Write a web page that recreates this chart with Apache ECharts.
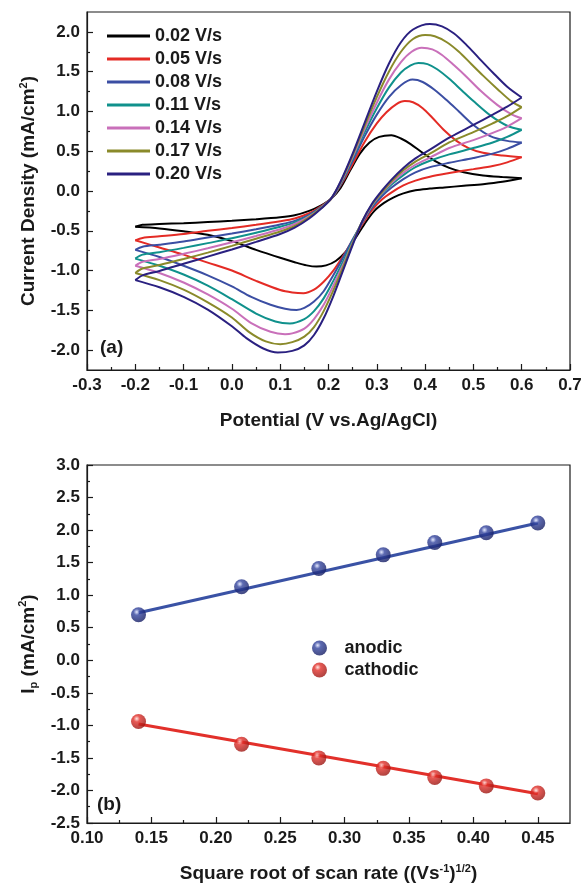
<!DOCTYPE html>
<html>
<head>
<meta charset="utf-8">
<title>CV at different scan rates</title>
<script src="https://cdn.jsdelivr.net/npm/echarts@6/dist/echarts.min.js"></script>
<style>
  html, body { margin: 0; padding: 0; background: #fff; }
  #chart { width: 585px; height: 885px; }
</style>
</head>
<body>
<div id="chart"></div>
<script>
// ---- panel (a): cyclic voltammograms, [potential V, current density mA/cm2] ----
const scanRates = ['0.02 V/s', '0.05 V/s', '0.08 V/s', '0.11 V/s', '0.14 V/s', '0.17 V/s', '0.20 V/s'];
const cvColors = ['#000000', '#e42b25', '#3b4ea3', '#10918c', '#c970ba', '#8a8a2a', '#2a2080'];

// forward (anodic) sweeps, -0.2 -> 0.6 V
const fwd002 = [[-0.2,-0.45],[-0.185,-0.425],[-0.15,-0.415],[-0.1,-0.405],[-0.05,-0.39],[0.0,-0.375],[0.05,-0.355],[0.1,-0.33],[0.13,-0.305],[0.16,-0.25],[0.185,-0.18],[0.205,-0.10],[0.225,0.04],[0.245,0.26],[0.265,0.47],[0.285,0.61],[0.305,0.68],[0.33,0.70],[0.35,0.66],[0.37,0.59],[0.395,0.48],[0.42,0.38],[0.45,0.29],[0.48,0.235],[0.52,0.195],[0.56,0.175],[0.6,0.16]];
const fwd005 = [[-0.2,-0.62],[-0.185,-0.59],[-0.15,-0.57],[-0.1,-0.54],[-0.05,-0.50],[0.0,-0.465],[0.05,-0.425],[0.1,-0.38],[0.13,-0.345],[0.16,-0.28],[0.185,-0.19],[0.205,-0.10],[0.225,0.07],[0.25,0.34],[0.275,0.62],[0.30,0.85],[0.32,0.99],[0.34,1.09],[0.358,1.13],[0.375,1.115],[0.395,1.04],[0.415,0.92],[0.44,0.76],[0.465,0.63],[0.49,0.54],[0.52,0.48],[0.56,0.445],[0.6,0.425]];
const fwd008 = [[-0.2,-0.74],[-0.185,-0.70],[-0.15,-0.675],[-0.1,-0.635],[-0.05,-0.585],[0.0,-0.535],[0.05,-0.48],[0.1,-0.42],[0.13,-0.375],[0.16,-0.30],[0.185,-0.20],[0.205,-0.10],[0.225,0.08],[0.25,0.38],[0.275,0.69],[0.30,0.96],[0.325,1.18],[0.35,1.33],[0.374,1.40],[0.395,1.37],[0.42,1.27],[0.445,1.14],[0.47,1.0],[0.5,0.83],[0.535,0.69],[0.57,0.63],[0.6,0.61]];
const fwd011 = [[-0.2,-0.85],[-0.185,-0.80],[-0.15,-0.77],[-0.1,-0.715],[-0.05,-0.655],[0.0,-0.595],[0.05,-0.525],[0.1,-0.45],[0.13,-0.395],[0.16,-0.31],[0.185,-0.205],[0.205,-0.10],[0.225,0.09],[0.25,0.41],[0.275,0.74],[0.30,1.04],[0.325,1.30],[0.35,1.49],[0.37,1.58],[0.386,1.61],[0.405,1.595],[0.425,1.53],[0.45,1.41],[0.475,1.27],[0.5,1.13],[0.535,0.95],[0.57,0.82],[0.6,0.77]];
const fwd014 = [[-0.2,-0.94],[-0.185,-0.89],[-0.15,-0.855],[-0.1,-0.79],[-0.05,-0.72],[0.0,-0.645],[0.05,-0.565],[0.1,-0.48],[0.13,-0.415],[0.16,-0.32],[0.185,-0.21],[0.205,-0.10],[0.225,0.10],[0.25,0.43],[0.275,0.78],[0.30,1.11],[0.325,1.40],[0.35,1.62],[0.372,1.75],[0.393,1.80],[0.415,1.78],[0.435,1.71],[0.46,1.58],[0.485,1.44],[0.515,1.26],[0.55,1.08],[0.58,0.96],[0.6,0.915]];
const fwd017 = [[-0.2,-1.03],[-0.185,-0.975],[-0.15,-0.93],[-0.1,-0.855],[-0.05,-0.775],[0.0,-0.69],[0.05,-0.60],[0.1,-0.51],[0.13,-0.44],[0.16,-0.33],[0.185,-0.215],[0.205,-0.10],[0.225,0.11],[0.25,0.45],[0.275,0.82],[0.30,1.18],[0.325,1.50],[0.35,1.75],[0.375,1.91],[0.40,1.96],[0.42,1.945],[0.445,1.87],[0.47,1.75],[0.495,1.60],[0.52,1.45],[0.55,1.28],[0.58,1.12],[0.6,1.055]];
const fwd020 = [[-0.2,-1.12],[-0.185,-1.06],[-0.15,-1.005],[-0.1,-0.915],[-0.05,-0.825],[0.0,-0.735],[0.05,-0.64],[0.1,-0.54],[0.13,-0.46],[0.16,-0.345],[0.185,-0.22],[0.205,-0.10],[0.225,0.12],[0.25,0.47],[0.275,0.86],[0.30,1.25],[0.325,1.60],[0.35,1.87],[0.375,2.03],[0.41,2.10],[0.435,2.07],[0.46,1.98],[0.485,1.84],[0.51,1.68],[0.54,1.49],[0.57,1.31],[0.6,1.175]];

// reverse (cathodic) sweeps, 0.6 -> -0.2 V
const rev002 = [[0.6,0.16],[0.56,0.115],[0.52,0.085],[0.48,0.065],[0.44,0.045],[0.41,0.03],[0.38,0.01],[0.355,-0.03],[0.335,-0.08],[0.315,-0.15],[0.295,-0.25],[0.275,-0.41],[0.255,-0.60],[0.235,-0.77],[0.215,-0.88],[0.195,-0.935],[0.175,-0.95],[0.155,-0.935],[0.13,-0.895],[0.1,-0.84],[0.05,-0.74],[0.0,-0.63],[-0.05,-0.55],[-0.1,-0.505],[-0.15,-0.47],[-0.2,-0.45]];
const rev005 = [[0.6,0.425],[0.57,0.36],[0.54,0.315],[0.5,0.275],[0.45,0.225],[0.41,0.18],[0.38,0.13],[0.355,0.07],[0.33,-0.02],[0.31,-0.11],[0.29,-0.24],[0.27,-0.42],[0.25,-0.62],[0.23,-0.82],[0.21,-1.0],[0.19,-1.14],[0.17,-1.24],[0.148,-1.285],[0.125,-1.275],[0.1,-1.245],[0.05,-1.13],[0.0,-1.0],[-0.05,-0.90],[-0.1,-0.80],[-0.15,-0.71],[-0.2,-0.62]];
const rev008 = [[0.6,0.61],[0.57,0.53],[0.54,0.47],[0.5,0.415],[0.45,0.355],[0.41,0.30],[0.38,0.235],[0.355,0.15],[0.33,0.04],[0.31,-0.07],[0.29,-0.21],[0.27,-0.40],[0.25,-0.61],[0.23,-0.84],[0.21,-1.06],[0.19,-1.26],[0.17,-1.39],[0.15,-1.47],[0.134,-1.495],[0.11,-1.48],[0.08,-1.43],[0.04,-1.33],[0.0,-1.20],[-0.05,-1.06],[-0.1,-0.94],[-0.15,-0.83],[-0.2,-0.74]];
const rev011 = [[0.6,0.77],[0.57,0.68],[0.54,0.61],[0.5,0.54],[0.45,0.46],[0.41,0.38],[0.38,0.30],[0.355,0.20],[0.33,0.08],[0.31,-0.04],[0.29,-0.19],[0.27,-0.39],[0.25,-0.63],[0.23,-0.89],[0.21,-1.13],[0.19,-1.35],[0.17,-1.51],[0.15,-1.61],[0.12,-1.665],[0.09,-1.64],[0.05,-1.54],[0.0,-1.36],[-0.05,-1.19],[-0.1,-1.05],[-0.15,-0.94],[-0.2,-0.85]];
const rev014 = [[0.6,0.915],[0.57,0.81],[0.54,0.73],[0.5,0.64],[0.45,0.54],[0.41,0.42],[0.38,0.33],[0.355,0.23],[0.33,0.10],[0.31,-0.03],[0.29,-0.18],[0.27,-0.39],[0.25,-0.65],[0.23,-0.93],[0.21,-1.19],[0.19,-1.43],[0.17,-1.61],[0.15,-1.73],[0.125,-1.79],[0.11,-1.80],[0.08,-1.77],[0.04,-1.66],[0.0,-1.48],[-0.05,-1.30],[-0.1,-1.15],[-0.15,-1.03],[-0.2,-0.94]];
const rev017 = [[0.6,1.055],[0.57,0.94],[0.54,0.85],[0.5,0.74],[0.45,0.61],[0.41,0.47],[0.38,0.37],[0.355,0.26],[0.33,0.12],[0.31,-0.02],[0.29,-0.17],[0.27,-0.38],[0.25,-0.66],[0.23,-0.96],[0.21,-1.25],[0.19,-1.51],[0.17,-1.71],[0.15,-1.83],[0.125,-1.90],[0.10,-1.925],[0.07,-1.89],[0.035,-1.77],[0.0,-1.59],[-0.05,-1.40],[-0.1,-1.24],[-0.15,-1.12],[-0.2,-1.03]];
const rev020 = [[0.6,1.175],[0.57,1.06],[0.54,0.96],[0.5,0.83],[0.45,0.67],[0.41,0.52],[0.38,0.41],[0.355,0.29],[0.33,0.14],[0.31,0.0],[0.29,-0.16],[0.27,-0.38],[0.25,-0.68],[0.23,-1.0],[0.21,-1.32],[0.19,-1.60],[0.17,-1.81],[0.15,-1.94],[0.125,-2.01],[0.095,-2.03],[0.065,-1.98],[0.03,-1.85],[0.0,-1.70],[-0.05,-1.49],[-0.1,-1.33],[-0.15,-1.21],[-0.2,-1.12]];

const cvForward = [fwd002, fwd005, fwd008, fwd011, fwd014, fwd017, fwd020];
const cvReverse = [rev002, rev005, rev008, rev011, rev014, rev017, rev020];

const cvXTicks = [-0.3, -0.2, -0.1, 0.0, 0.1, 0.2, 0.3, 0.4, 0.5, 0.6, 0.7];
const cvXMinor = [-0.25, -0.15, -0.05, 0.05, 0.15, 0.25, 0.35, 0.45, 0.55, 0.65];
const cvYTicks = [-2.0, -1.5, -1.0, -0.5, 0.0, 0.5, 1.0, 1.5, 2.0];
const cvYMinor = [-1.75, -1.25, -0.75, -0.25, 0.25, 0.75, 1.25, 1.75];

// ---- panel (b): peak current vs square root of scan rate ----
const sqrtRate = [0.14, 0.22, 0.28, 0.33, 0.37, 0.41, 0.45];
const anodicIp = [0.70, 1.13, 1.41, 1.62, 1.81, 1.96, 2.11];
const cathodicIp = [-0.94, -1.29, -1.50, -1.66, -1.80, -1.93, -2.04];
const anodicFit = [[0.14, 0.73], [0.45, 2.11]];
const cathodicFit = [[0.14, -0.98], [0.45, -2.05]];

const ipXTicks = [0.10, 0.15, 0.20, 0.25, 0.30, 0.35, 0.40, 0.45];
const ipXMinor = [0.125, 0.175, 0.225, 0.275, 0.325, 0.375, 0.425];
const ipYTicks = [-2.5, -2.0, -1.5, -1.0, -0.5, 0.0, 0.5, 1.0, 1.5, 2.0, 2.5, 3.0];
const ipYMinor = [-2.25, -1.75, -1.25, -0.75, -0.25, 0.25, 0.75, 1.25, 1.75, 2.25, 2.75];

const FONT = '"Liberation Sans", Arial, Helvetica, sans-serif';
const INK = '#1a1a1a';

const nameRich = {
  b: { fontSize: 19, fontWeight: 'bold', fontFamily: FONT, color: INK, lineHeight: 22 },
  sup: { fontSize: 11, fontWeight: 'bold', fontFamily: FONT, color: INK, lineHeight: 13, verticalAlign: 'top' },
  sub: { fontSize: 11, fontWeight: 'bold', fontFamily: FONT, color: INK, lineHeight: 13, verticalAlign: 'bottom' },
};

const fmt = (v, digits) => (Math.abs(v) < 1e-9 ? 0 : v).toFixed(digits);

function mainAxis(gridIndex, position, min, max, ticks, digits, name, nameGap) {
  return {
    type: 'value',
    gridIndex,
    position,
    min,
    max,
    name,
    nameLocation: 'middle',
    nameGap,
    nameTextStyle: { rich: nameRich },
    axisLine: { show: true, onZero: false, lineStyle: { color: INK, width: 1.2 } },
    axisTick: { show: true, inside: true, length: 6, customValues: ticks, lineStyle: { color: INK, width: 1.2 } },
    axisLabel: {
      show: true,
      customValues: ticks,
      margin: 7,
      fontSize: 17,
      fontWeight: 'bold',
      fontFamily: FONT,
      color: INK,
      formatter: (v) => fmt(v, digits),
    },
    splitLine: { show: false },
  };
}

function minorAxis(gridIndex, position, min, max, ticks) {
  return {
    type: 'value',
    gridIndex,
    position,
    min,
    max,
    axisLine: { show: false, onZero: false },
    axisTick: { show: true, inside: true, length: 3, customValues: ticks, lineStyle: { color: INK, width: 1.2 } },
    axisLabel: { show: false },
    splitLine: { show: false },
  };
}

const sphere = (light, mid, dark) => ({
  type: 'radial',
  x: 0.38,
  y: 0.32,
  r: 0.7,
  colorStops: [
    { offset: 0, color: light },
    { offset: 0.3, color: mid },
    { offset: 1, color: dark },
  ],
});

const series = [];
scanRates.forEach((rate, i) => {
  [cvForward[i], cvReverse[i]].forEach((sweep) => {
    series.push({
      name: rate,
      type: 'line',
      xAxisIndex: 0,
      yAxisIndex: 0,
      data: sweep,
      smooth: 0.3,
      symbol: 'none',
      lineStyle: { color: cvColors[i], width: 2 },
      itemStyle: { color: cvColors[i] },
    });
  });
});

series.push(
  {
    type: 'line',
    xAxisIndex: 1,
    yAxisIndex: 1,
    data: anodicFit,
    symbol: 'none',
    lineStyle: { color: '#3a52a5', width: 3 },
  },
  {
    type: 'line',
    xAxisIndex: 1,
    yAxisIndex: 1,
    data: cathodicFit,
    symbol: 'none',
    lineStyle: { color: '#e2302a', width: 3 },
  },
  {
    name: 'anodic',
    type: 'scatter',
    xAxisIndex: 1,
    yAxisIndex: 1,
    data: sqrtRate.map((x, i) => [x, anodicIp[i]]),
    symbol: 'circle',
    symbolSize: 15,
    itemStyle: { color: sphere('#dfe4ff', '#34459f', '#141c62') },
    z: 5,
  },
  {
    name: 'cathodic',
    type: 'scatter',
    xAxisIndex: 1,
    yAxisIndex: 1,
    data: sqrtRate.map((x, i) => [x, cathodicIp[i]]),
    symbol: 'circle',
    symbolSize: 15,
    itemStyle: { color: sphere('#ffe0dc', '#e2302a', '#9a1410') },
    z: 5,
  }
);

const legendText = { fontSize: 18, fontWeight: 'bold', fontFamily: FONT, color: INK, lineHeight: 18 };

const option = {
  animation: false,
  backgroundColor: '#ffffff',
  grid: [
    { left: 87, top: 12, width: 483, height: 358, show: true, borderColor: INK, borderWidth: 1.2, backgroundColor: 'transparent' },
    { left: 87, top: 465, width: 483, height: 358, show: true, borderColor: INK, borderWidth: 1.2, backgroundColor: 'transparent' },
  ],
  xAxis: [
    mainAxis(0, 'bottom', -0.3, 0.7, cvXTicks, 1, '{b|Potential (V vs.Ag/AgCl)}', 40),
    mainAxis(1, 'bottom', 0.1, 0.475, ipXTicks, 2, '{b|Square root of scan rate ((Vs}{sup|-1}{b|)}{sup|1/2}{b|)}', 40),
    minorAxis(0, 'bottom', -0.3, 0.7, cvXMinor),
    minorAxis(1, 'bottom', 0.1, 0.475, ipXMinor),
  ],
  yAxis: [
    mainAxis(0, 'left', -2.25, 2.25, cvYTicks, 1, '{b|Current Density (mA/cm}{sup|2}{b|)}', 47),
    mainAxis(1, 'left', -2.5, 3.0, ipYTicks, 1, '{b|I}{sub|p}{b| (mA/cm}{sup|2}{b|)}', 47),
    minorAxis(0, 'left', -2.25, 2.25, cvYMinor),
    minorAxis(1, 'left', -2.5, 3.0, ipYMinor),
  ],
  legend: [
    {
      data: scanRates,
      orient: 'vertical',
      left: 107,
      top: 27,
      padding: 0,
      icon: 'rect',
      itemWidth: 43,
      itemHeight: 3,
      itemGap: 5,
      selectedMode: false,
      textStyle: legendText,
    },
    {
      data: ['anodic', 'cathodic'],
      orient: 'vertical',
      left: 312,
      top: 639,
      padding: 0,
      itemWidth: 40,
      itemHeight: 15,
      itemGap: 4,
      selectedMode: false,
      textStyle: legendText,
    },
  ],
  graphic: [
    { type: 'text', left: 100, top: 338, style: { text: '(a)', font: 'bold 19px ' + FONT, fill: INK } },
    { type: 'text', left: 97, top: 795, style: { text: '(b)', font: 'bold 19px ' + FONT, fill: INK } },
  ],
  series,
};

const chart = echarts.init(document.getElementById('chart'));
chart.setOption(option);
window.addEventListener('resize', () => {
  chart.resize();
});
</script>
</body>
</html>
